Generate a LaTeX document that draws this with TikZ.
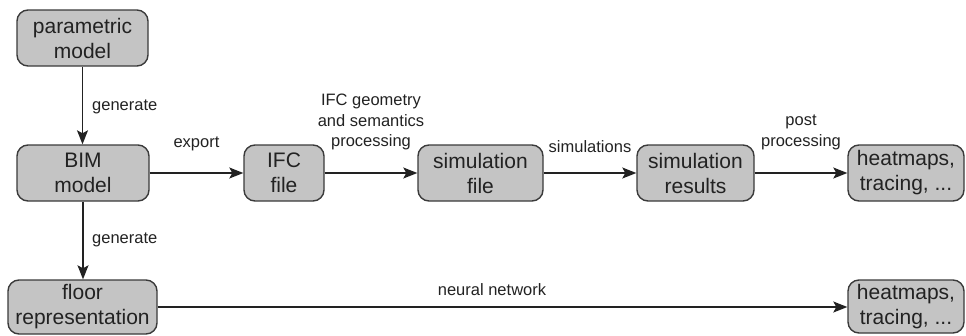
\documentclass[tikz,border=0pt]{standalone}
\usepackage{fontspec}
\setmainfont{Liberation Sans}
\usetikzlibrary{arrows.meta}
\definecolor{boxfill}{HTML}{C4C4C4}
\definecolor{boxline}{HTML}{3A3A3A}
\definecolor{txt}{HTML}{222222}
\begin{document}
\begin{tikzpicture}[x=1pt,y=-1pt,
  box/.style={draw=boxline, fill=boxfill, line width=1.4pt, rounded corners=11pt,
    align=center, inner sep=0pt, text=txt, font=\fontsize{21}{25}\selectfont},
  lbl/.style={align=center, inner sep=0pt, text=txt, font=\fontsize{16.5}{20.5}\selectfont},
  arr/.style={draw=txt, line width=1.6pt, -{Stealth[length=14pt,width=11pt,inset=3pt]}}
]
\useasboundingbox (0,0) rectangle (966,335);
\node[box, minimum width=131pt, minimum height=56pt] (param) at (82.5,38) {parametric\\model};
\node[box, minimum width=132pt, minimum height=56pt] (bim) at (83,173) {BIM\\model};
\node[box, minimum width=80pt, minimum height=56pt] (ifc) at (284,173) {IFC\\file};
\node[box, minimum width=125pt, minimum height=56pt] (simfile) at (480.5,173) {simulation\\file};
\node[box, minimum width=117pt, minimum height=56pt] (simres) at (695.5,173) {simulation\\results};
\node[box, minimum width=116pt, minimum height=56pt] (heat1) at (906,173) {heatmaps,\\tracing, ...};
\node[box, minimum width=149pt, minimum height=54pt] (floor) at (82.5,307) {floor\\representation};
\node[box, minimum width=116pt, minimum height=53pt] (heat2) at (906,306.5) {heatmaps,\\tracing, ...};

\draw[arr] (param.south) -- (param.south |- bim.north);
\draw[arr] (bim.south) -- (bim.south |- floor.north);
\draw[arr] (bim.east) -- (ifc.west);
\draw[arr] (ifc.east) -- (simfile.west);
\draw[arr] (simfile.east) -- (simres.west);
\draw[arr] (simres.east) -- (heat1.west);
\draw[arr] (floor.east) -- (floor.east -| heat2.west);

\node[lbl, anchor=west] (g1) at (92,107) {generate};
\node[lbl, anchor=west] (g2) at (92,240) {generate};
\node[lbl] (exp) at (196.5,144) {export};
\node[lbl] (ifcl) at (371,122) {IFC geometry\\and semantics\\processing};
\node[lbl] (siml) at (590,147) {simulations};
\node[lbl] (post) at (801,132.5) {post\\processing};
\node[lbl] (nn) at (492,290) {neural network};
\end{tikzpicture}
\end{document}
